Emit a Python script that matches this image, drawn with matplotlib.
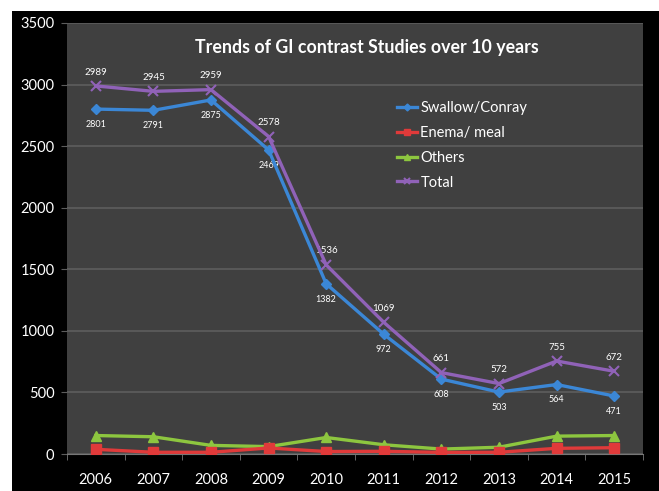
import matplotlib
matplotlib.use("Agg")
import matplotlib.pyplot as plt
from matplotlib.patches import Rectangle

years = ["2006", "2007", "2008", "2009", "2010", "2011", "2012", "2013", "2014", "2015"]
swallow = [2801, 2791, 2875, 2469, 1382, 972, 608, 503, 564, 471]
enema = [38, 14, 14, 49, 20, 22, 13, 14, 46, 51]
others = [150, 140, 70, 60, 134, 75, 40, 55, 145, 150]
total = [2989, 2945, 2959, 2578, 1536, 1069, 661, 572, 755, 672]
yticks = [0, 500, 1000, 1500, 2000, 2500, 3000, 3500]

plt.rcParams['font.family'] = ['Lato', 'DejaVu Sans']

W, H = 659, 491
fig = plt.figure(figsize=(W / 100, H / 100), dpi=100, facecolor='white')
fig.patches.append(Rectangle((12 / W, 0), 1 - 12 / W, (H - 11) / H,
                             transform=fig.transFigure, facecolor='black',
                             edgecolor='none', zorder=-10))

left, right, top, bottom = 67, 643, 23, 454
ax = fig.add_axes([left / W, 1 - bottom / H, (right - left) / W, (bottom - top) / H])
ax.set_zorder(1)
ax.set_facecolor('#404040')
x = list(range(len(years)))

c_blue = '#3b87d6'
c_red = '#e03a3a'
c_green = '#8dc63f'
c_purple = '#9062b8'

ax.plot(x, others, color=c_green, lw=2.4, marker='^', ms=7, label='Others', zorder=3)
ax.plot(x, enema, color=c_red, lw=2.4, marker='s', ms=7, label='Enema/ meal', zorder=3)
ax.plot(x, swallow, color=c_blue, lw=2.4, marker='D', ms=5, label='Swallow/Conray', zorder=4)
ax.plot(x, total, color=c_purple, lw=2.4, marker='x', ms=7, mew=1.5, label='Total', zorder=4)

for i in x:
    ax.annotate(str(swallow[i]), (i, swallow[i]), xytext=(0, -11), textcoords='offset points',
                ha='center', va='center', color='white', fontsize=6.5)
    ax.annotate(str(total[i]), (i, total[i]), xytext=(0, 10), textcoords='offset points',
                ha='center', va='center', color='white', fontsize=7)

ax.set_xlim(-0.5, len(years) - 0.5)
ax.set_ylim(0, 3500)
ax.set_yticks(yticks)
ax.set_yticklabels([str(v) for v in yticks], color='white', fontsize=10.5)
ax.set_xticks(x)
ax.set_xticklabels(years, color='white', fontsize=10.5)
ax.set_xticks([i - 0.5 for i in range(len(years) + 1)], minor=True)
ax.tick_params(axis='x', which='major', length=0, pad=14)
ax.tick_params(axis='x', which='minor', length=4, color='#777777')
ax.tick_params(axis='y', length=4, color='#5c5c5c', pad=5)
ax.grid(axis='y', color='#5e5e5e', lw=1.2)
ax.set_axisbelow(True)
for s in ['top', 'right', 'left']:
    ax.spines[s].set_visible(False)
ax.spines['bottom'].set_color('#777777')

ax.set_title('Trends of GI contrast Studies over 10 years', color='white',
             fontsize=12.8, fontweight='bold', x=0.52, y=0.91)

handles, labels = ax.get_legend_handles_labels()
order = [2, 1, 0, 3]
leg = ax.legend([handles[i] for i in order], [labels[i] for i in order],
                loc='upper left', bbox_to_anchor=(0.55, 0.85), frameon=False,
                fontsize=10.5, labelcolor='white', handlelength=1.4, handletextpad=0.2,
                labelspacing=0.75, markerscale=0.7)

fig.savefig('out.png', dpi=100, facecolor=fig.get_facecolor())
